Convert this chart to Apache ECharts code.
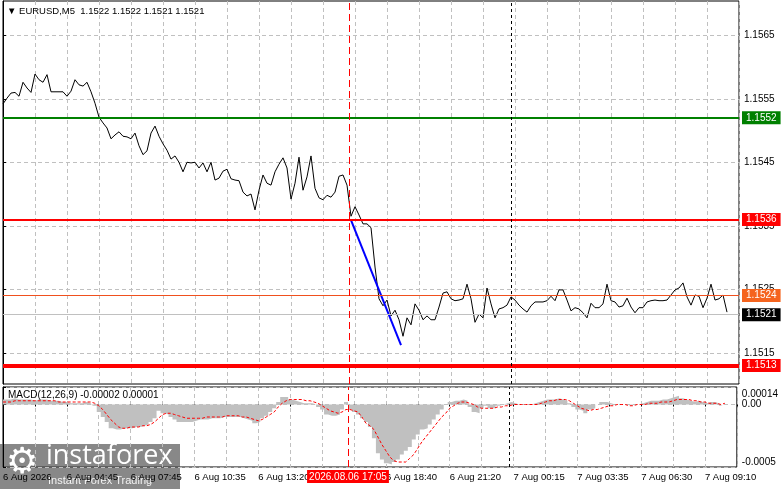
<!DOCTYPE html>
<html>
<head>
<meta charset="utf-8">
<script src="https://cdn.jsdelivr.net/npm/echarts@6/dist/echarts.min.js"></script>
<style>
  html, body { margin: 0; padding: 0; background: #fff; }
  #chart { width: 781px; height: 489px; }
</style>
</head>
<body>
<div id="chart"></div>
<script>
// one sample every 2 bars (M5), 2 px per bar
var barStep = 2;
var lastBar = 368;

var closes = [
   1.15542, 1.15551, 1.15559, 1.15560, 1.15554, 1.15576, 1.15567, 1.15560, 1.15589, 1.15580,
   1.15576, 1.15588, 1.15561, 1.15561, 1.15561, 1.15561, 1.15554, 1.15562, 1.15580, 1.15572,
   1.15570, 1.15576, 1.15561, 1.15543, 1.15521, 1.15512, 1.15504, 1.15487, 1.15493, 1.15498,
   1.15491, 1.15490, 1.15487, 1.15496, 1.15476, 1.15462, 1.15468, 1.15496, 1.15507, 1.15491,
   1.15479, 1.15469, 1.15455, 1.15460, 1.15450, 1.15435, 1.15450, 1.15449, 1.15450, 1.15441,
   1.15449, 1.15435, 1.15450, 1.15422, 1.15425, 1.15436, 1.15439, 1.15424, 1.15422, 1.15421,
   1.15403, 1.15397, 1.15400, 1.15375, 1.15406, 1.15430, 1.15417, 1.15414, 1.15435, 1.15447,
   1.15457, 1.15441, 1.15392, 1.15417, 1.15458, 1.15406, 1.15427, 1.15460, 1.15409, 1.15394,
   1.15391, 1.15398, 1.15395, 1.15403, 1.15428, 1.15430, 1.15414, 1.15365, 1.15380, 1.15367,
   1.15353, 1.15353, 1.15347, 1.15285, 1.15235, 1.15224, 1.15233, 1.15208, 1.15217, 1.15202,
   1.15176, 1.15205, 1.15194, 1.15227, 1.15217, 1.15202, 1.15208, 1.15202, 1.15202, 1.15222,
   1.15244, 1.15246, 1.15235, 1.15232, 1.15233, 1.15235, 1.15258, 1.15235, 1.15198, 1.15211,
   1.15205, 1.15252, 1.15227, 1.15205, 1.15219, 1.15221, 1.15225, 1.15238, 1.15233, 1.15225,
   1.15219, 1.15214, 1.15224, 1.15230, 1.15230, 1.15230, 1.15232, 1.15239, 1.15232, 1.15249,
   1.15249, 1.15233, 1.15216, 1.15221, 1.15219, 1.15213, 1.15205, 1.15228, 1.15221, 1.15221,
   1.15227, 1.15258, 1.15232, 1.15230, 1.15222, 1.15224, 1.15236, 1.15222, 1.15213, 1.15221,
   1.15221, 1.15230, 1.15232, 1.15233, 1.15232, 1.15232, 1.15233, 1.15241, 1.15249, 1.15252,
   1.15260, 1.15238, 1.15225, 1.15241, 1.15239, 1.15221, 1.15236, 1.15258, 1.15233, 1.15235,
   1.15241, 1.15214
];

var macdMain = [
   0.00004, 0.00004, 0.00004, 0.00005, 0.00004, 0.00004, 0.00004, 0.00004, 0.00003, 0.00004,
   0.00004, 0.00004, 0.00003, 0.00003, 0.00003, 0.00002, 0.00002, 0.00001, 0.00001, 0.00001,
   0.00001, 0.00002, 0.00001, -0.00001, -0.00006, -0.0001, -0.00014, -0.00019, -0.0002, -0.0002,
   -0.00019, -0.00019, -0.00019, -0.00018, -0.00018, -0.00017, -0.00016, -0.00014, -0.00011, -0.00005,
   -0.00007, -0.00008, -0.0001, -0.00012, -0.00014, -0.00014, -0.00014, -0.00014, -0.00013, -0.00012,
   -0.00012, -0.00012, -0.00011, -0.00011, -0.00011, -0.0001, -0.0001, -0.0001, -0.0001, -0.0001,
   -0.00011, -0.00012, -0.00013, -0.00015, -0.00014, -0.00011, -0.00009, -0.00006, -0.00003, 0.00002,
   0.00006, 0.00006, 0.00004, 0.00003, 0.00002, 0.00001, 0.00001, 0.00001, 0, -0.00002,
   -0.00004, -0.00008, -0.00009, -0.00009, -0.00008, -0.00004, 0.00002, -0.00004, -0.00006, -0.00008,
   -0.00011, -0.00014, -0.00018, -0.00027, -0.00039, -0.00044, -0.00047, -0.00048, -0.00046, -0.00044,
   -0.0004, -0.00037, -0.00034, -0.00028, -0.00024, -0.0002, -0.00019, -0.00016, -0.00012, -0.00008,
   -0.00004, 0, 0.00002, 0.00003, 0.00003, 0.00004, 0.00003, -0.00002, -0.00006, -0.00007,
   -0.00003, -0.00001, -0.00003, -0.00003, -0.00001, 0, 0.00001, 0.00002, 0.00001, 0,
   0, 0, 0, 0.00001, 0.00002, 0.00003, 0.00004, 0.00004, 0.00004, 0.00005,
   0.00004, 0.00003, 0.00001, -0.00002, -0.00004, -0.00005, -0.00007, -0.00004, -0.00003, 0,
   0.00002, 0.00002, 0.00001, 0, 0, 0, 0, -0.00001, 0, 0,
   0.00001, 0.00002, 0.00003, 0.00003, 0.00003, 0.00004, 0.00004, 0.00005, 0.00006, 0.00007,
   0.00005, 0.00004, 0.00003, 0.00002, 0.00003, 0.00002, 0.00001, 0.00002, 0.00002, 0.00001,
   -0.00001, -0.00002
];

var macdSignal = [
   0.00002, 0.00002, 0.00002, 0.00003, 0.00003, 0.00003, 0.00003, 0.00003, 0.00003, 0.00003,
   0.00003, 0.00003, 0.00003, 0.00003, 0.00002, 0.00002, 0.00002, 0.00002, 0.00002, 0.00002,
   0.00002, 0.00002, 0.00002, 0.00001, -0.00001, -0.00004, -0.00008, -0.00012, -0.00015, -0.00018,
   -0.00019, -0.00019, -0.00018, -0.00018, -0.00018, -0.00017, -0.00017, -0.00016, -0.00014, -0.00011,
   -0.00008, -0.00007, -0.00007, -0.00008, -0.00009, -0.0001, -0.00011, -0.00011, -0.00011, -0.00011,
   -0.00011, -0.0001, -0.0001, -0.0001, -0.0001, -0.0001, -0.00009, -0.00009, -0.00009, -0.00009,
   -0.0001, -0.0001, -0.00011, -0.00012, -0.00013, -0.00012, -0.0001, -0.00008, -0.00006, -0.00002,
   0.00001, 0.00003, 0.00004, 0.00004, 0.00004, 0.00004, 0.00003, 0.00003, 0.00002, 0.00001,
   -0.00001, -0.00003, -0.00005, -0.00006, -0.00007, -0.00006, -0.00004, -0.00004, -0.00005, -0.00006,
   -0.0001, -0.00015, -0.00017, -0.0002, -0.00026, -0.00032, -0.00037, -0.00042, -0.00045, -0.00046,
   -0.00046, -0.00046, -0.00043, -0.0004, -0.00035, -0.0003, -0.00026, -0.00022, -0.00018, -0.00014,
   -0.0001, -0.00007, -0.00003, -0.00001, 0.00001, 0.00002, 0.00002, 0.00001, 0, -0.00002,
   -0.00003, -0.00003, -0.00003, -0.00003, -0.00002, -0.00002, -0.00001, -0.00001, 0, 0,
   0, 0, 0, 0, 0, 0.00001, 0.00002, 0.00003, 0.00003, 0.00004,
   0.00004, 0.00004, 0.00003, 0.00001, -0.00001, -0.00003, -0.00004, -0.00005, -0.00004, -0.00004,
   -0.00003, -0.00002, -0.00001, -0.00001, 0, 0, 0, -0.00001, -0.00001, 0,
   0, 0, 0.00001, 0.00001, 0.00001, 0.00002, 0.00002, 0.00002, 0.00003, 0.00004,
   0.00004, 0.00004, 0.00004, 0.00003, 0.00003, 0.00002, 0.00002, 0.00001, 0.00001, 0.00001,
   0, 0.00001
];

// one label every 32 bars
var timeLabels = [
   '6 Aug 2026', '6 Aug 04:45', '6 Aug 07:45', '6 Aug 10:35', '6 Aug 13:20', '6 Aug 16:00',
   '6 Aug 18:40', '6 Aug 21:20', '7 Aug 00:15', '7 Aug 03:35', '7 Aug 06:30', '7 Aug 09:10'
];
var priceTicks = [1.1515, 1.1525, 1.1535, 1.1545, 1.1555, 1.1565];
var macdTicks = [-0.0005, 0, 0.00014];

var levelGreen = 1.1552;
var levelRed = 1.1536;
var levelAsk = 1.1524;
var levelBid = 1.1521;
var levelRedLow = 1.1513;

var trendLine = [[174, 1.15359], [199, 1.15162]];
var cursorBar = 173;
var cursorText = '2026.08.06 17:05';
var daySepBar = 254;

var font = '"Liberation Sans", Arial, sans-serif';
var gridGray = '#c0c0c0';

var hLevel = function(value, color, width, boxColor) {
   return [
      {
         coord: [0, value],
         lineStyle: { color: color, width: width, type: 'solid' },
         label: {
            show: true,
            position: 'end',
            distance: 3,
            formatter: value.toFixed(4),
            color: '#fff',
            backgroundColor: boxColor,
            padding: [2, 4, 1, 4],
            fontFamily: font,
            fontSize: 10
         }
      },
      { coord: [lastBar, value] }
   ];
};

var vLine = function(bar, color, dash, label) {
   var item = {
      xAxis: bar,
      lineStyle: { color: color, width: 1, type: dash },
      label: { show: false }
   };
   if(label) {
      item.label = {
         show: true,
         position: 'start',
         distance: 3,
         formatter: label,
         color: '#fff',
         backgroundColor: '#ff0000',
         padding: [2, 2, 1, 2],
         fontFamily: font,
         fontSize: 10
      };
   }
   return item;
};

var xAxisBase = function(gridIndex, showLabels) {
   return {
      type: 'value',
      gridIndex: gridIndex,
      min: 0,
      max: lastBar,
      interval: 16,
      axisLine: { show: false },
      axisTick: { show: showLabels, length: 2, lineStyle: { color: '#000' } },
      splitLine: { show: true, lineStyle: { color: gridGray, type: [4, 3] } },
      axisLabel: {
         show: showLabels,
         align: 'left',
         margin: 5,
         color: '#000',
         fontFamily: font,
         fontSize: 9.5,
         formatter: function(v) {
            return v % 32 === 0 ? (timeLabels[v / 32] || '') : '';
         }
      }
   };
};

var iChart = echarts.init(document.getElementById('chart'));

var option = {
   animation: false,
   backgroundColor: '#fff',
   grid: [
      { left: 3, top: 1, width: 736, height: 383, show: true, borderColor: '#000', borderWidth: 1 },
      { left: 3, top: 387, width: 736, height: 80, show: true, borderColor: '#000', borderWidth: 1 }
   ],
   xAxis: [xAxisBase(0, false), xAxisBase(1, true)],
   yAxis: [
      {
         type: 'value',
         gridIndex: 0,
         position: 'right',
         min: 1.151008,
         max: 1.15704,
         axisLine: { show: true, lineStyle: { color: '#000' } },
         axisTick: { show: true, length: 3, customValues: priceTicks, lineStyle: { color: '#000' } },
         splitLine: { show: true, lineStyle: { color: gridGray, type: [4, 3] } },
         axisLabel: {
            customValues: priceTicks,
            margin: 5,
            color: '#000',
            fontFamily: font,
            fontSize: 10,
            formatter: function(v) { return v.toFixed(4); }
         }
      },
      {
         type: 'value',
         gridIndex: 1,
         position: 'right',
         min: -0.0005,
         max: 0.00014,
         axisLine: { show: true, lineStyle: { color: '#000' } },
         axisTick: { show: true, length: 3, customValues: macdTicks, lineStyle: { color: '#000' } },
         splitLine: { show: true, lineStyle: { color: gridGray, type: [4, 3] } },
         axisLabel: {
            customValues: macdTicks,
            margin: 5,
            color: '#000',
            fontFamily: font,
            fontSize: 10,
            formatter: function(v) {
               if(v > 0) return '{t|0.00014}';
               if(v < 0) return '{b|-0.0005}';
               return '0.00';
            },
            rich: {
               t: { padding: [14, 0, 0, 0], fontFamily: font, fontSize: 10, color: '#000' },
               b: { padding: [0, 0, 10, 0], fontFamily: font, fontSize: 10, color: '#000' }
            }
         }
      }
   ],
   graphic: [
      {
         type: 'text', left: 7, top: 6, z: 10,
         style: { text: '\u25BC EURUSD,M5  1.1522 1.1522 1.1521 1.1521', font: '9.5px ' + font, fill: '#000' }
      },
      {
         type: 'text', left: 8, top: 390, z: 10,
         style: { text: 'MACD(12,26,9) -0.00002 0.00001', font: '10px ' + font, fill: '#000' }
      },
      {
         type: 'group', left: 0, top: 443, z: 20,
         children: [
            { type: 'rect', shape: { x: 0, y: 0, width: 180, height: 46 }, style: { fill: 'rgba(80,80,80,0.68)' } },
            { type: 'text', x: 6, y: 2, style: { text: '\u2699', font: '36px "DejaVu Sans"', fill: '#fff' } },
            { type: 'text', x: 46, y: -1, style: { text: 'instaforex', font: '27px "Open Sans"', fill: '#fff' } },
            { type: 'text', x: 48, y: 31, style: { text: 'Instant Forex Trading', font: '11px ' + font, fill: 'rgba(255,255,255,0.9)' } }
         ]
      }
   ],
   series: [
      {
         name: 'EURUSD',
         type: 'line',
         xAxisIndex: 0,
         yAxisIndex: 0,
         showSymbol: false,
         silent: true,
         lineStyle: { color: '#000', width: 1 },
         data: closes.map(function(p, i) { return [i * barStep, p]; }),
         markLine: {
            symbol: 'none',
            silent: true,
            data: [
               hLevel(levelBid, '#c0c0c0', 1, '#000'),
               hLevel(levelAsk, '#f0501e', 1, '#f5641e'),
               hLevel(levelGreen, '#008000', 2, '#008000'),
               hLevel(levelRed, '#ff0000', 2, '#ff0000'),
               hLevel(levelRedLow, '#ff0000', 4, '#ff0000'),
               vLine(cursorBar, '#ff0000', [7, 4]),
               vLine(daySepBar, '#000', [3, 3])
            ]
         }
      },
      {
         name: 'trend',
         type: 'line',
         xAxisIndex: 0,
         yAxisIndex: 0,
         showSymbol: false,
         silent: true,
         lineStyle: { color: '#0000ff', width: 2 },
         data: trendLine
      },
      {
         // MACD histogram as a stepped filled area from zero
         name: 'MACD',
         type: 'line',
         step: 'middle',
         xAxisIndex: 1,
         yAxisIndex: 1,
         showSymbol: false,
         silent: true,
         lineStyle: { width: 0 },
         areaStyle: { color: '#c0c0c0', opacity: 1, origin: 0 },
         data: macdMain.map(function(v, i) { return [i * barStep, v]; })
      },
      {
         name: 'Signal',
         type: 'line',
         xAxisIndex: 1,
         yAxisIndex: 1,
         showSymbol: false,
         silent: true,
         z: 5,
         lineStyle: { color: '#ff0000', width: 1, type: [3, 2] },
         data: macdSignal.map(function(v, i) { return [i * barStep, v]; }),
         markLine: {
            symbol: 'none',
            silent: true,
            data: [
               vLine(cursorBar, '#ff0000', [7, 4], cursorText),
               vLine(daySepBar, '#000', [3, 3])
            ]
         }
      }
   ]
};

iChart.setOption(option);
</script>
</body>
</html>
